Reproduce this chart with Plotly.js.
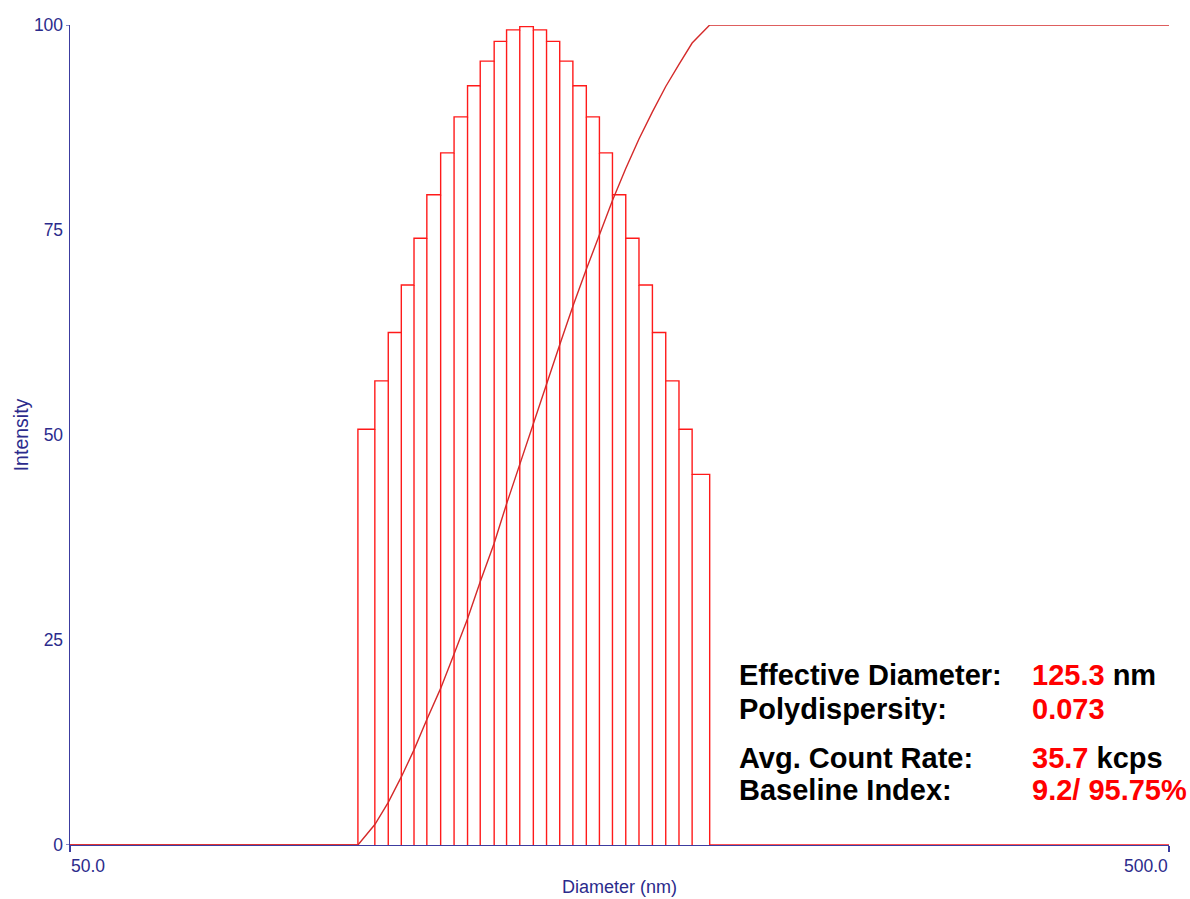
<!DOCTYPE html>
<html>
<head>
<meta charset="utf-8">
<script src="https://cdn.plot.ly/plotly-3.0.1.min.js"></script>
<style>html,body{margin:0;padding:0;background:#fff;}#chart{width:1190px;height:899px;}</style>
</head>
<body>
<div id="chart"></div>
<script>
// ---- data ----
const axisTicksX = [50, 500];
const axisTickLabelsX = ["50.0", "500.0"];
const tickValsY = [0, 25, 50, 75, 100];
const xTitle = "Diameter (nm)";
const yTitle = "Intensity";
// bin edges (diameter, nm) of the intensity distribution
const binEdges = [91.4, 94.7, 97.4, 100.1, 102.8, 105.6, 108.7, 111.8, 115.0, 118.1,
  121.6, 124.8, 128.3, 132.0, 135.7, 139.5, 143.4, 147.5, 151.6, 155.8,
  160.2, 164.7, 169.4, 174.2, 179.1, 184.1, 191.0];
// intensity of each bin
const binIntensity = [50.7, 56.6, 62.5, 68.3, 74.0, 79.3, 84.4, 88.8, 92.6, 95.6,
  98.0, 99.4, 99.8, 99.4, 98.0, 95.6, 92.6, 88.8, 84.4, 79.3,
  74.0, 68.3, 62.5, 56.6, 50.7, 45.2];
// cumulative intensity at each bin edge
const cumulative = [0, 2.5, 5.2, 8.3, 11.6, 15.3, 19.1, 23.3, 27.6, 32.1,
  36.8, 41.6, 46.5, 51.3, 56.2, 61.0, 65.7, 70.2, 74.5, 78.6,
  82.5, 86.1, 89.4, 92.5, 95.2, 97.8, 100];
const statLabels = ["Effective Diameter:", "Polydispersity:", "Avg. Count Rate:", "Baseline Index:"];
const statValues = ["125.3", "0.073", "35.7", "9.2/ 95.75%"];
const statUnits = ["nm", "", "kcps", ""];

// ---- build traces ----
const xMin = axisTicksX[0], xMax = axisTicksX[1];
const hx = [xMin, binEdges[0]], hy = [0, 0];
for (let i = 0; i < binIntensity.length; i++) {
  hx.push(binEdges[i], binEdges[i + 1]);
  hy.push(binIntensity[i], binIntensity[i]);
}
hx.push(binEdges[binEdges.length - 1], xMax);
hy.push(0, 0);
for (let i = 1; i < binEdges.length - 1; i++) {
  hx.push(null, binEdges[i], binEdges[i]);
  hy.push(null, 0, Math.min(binIntensity[i - 1], binIntensity[i]));
}
const histTrace = {
  type: 'scatter', mode: 'lines', x: hx, y: hy, connectgaps: false,
  line: {color: '#ff1a1a', width: 1.4}, hoverinfo: 'skip', showlegend: false
};
const cumTrace = {
  type: 'scatter', mode: 'lines',
  x: [xMin].concat(binEdges, [xMax]),
  y: [0].concat(cumulative, [100]),
  line: {color: '#d42a2a', width: 1.4}, hoverinfo: 'skip', showlegend: false
};

// ---- layout ----
const L = 70, R = 21, T = 25, B = 54, W = 1190, H = 899;
const pw = W - L - R, ph = H - T - B;
const px2x = p => (p - L) / pw;
const py2y = p => (H - B - p) / ph;
const FONT = 'Liberation Sans, Arial, sans-serif';
const AXC = '#2b2b8c';

const annotations = [];
const rowY = [675, 708.5, 757.5, 789.5];
statLabels.forEach((t, i) => {
  annotations.push({
    xref: 'paper', yref: 'paper', x: px2x(737), y: py2y(rowY[i]),
    xanchor: 'left', yanchor: 'middle', showarrow: false,
    text: '<b>' + t + '</b>',
    font: {family: FONT, size: 29, color: '#000'}
  });
  annotations.push({
    xref: 'paper', yref: 'paper', x: px2x(1030), y: py2y(rowY[i]),
    xanchor: 'left', yanchor: 'middle', showarrow: false,
    text: '<b>' + statValues[i] + (statUnits[i] ? ' <span style="color:#000">' + statUnits[i] + '</span>' : '') + '</b>',
    font: {family: FONT, size: 29, color: '#ff0000'}
  });
});
axisTicksX.forEach((v, i) => {
  annotations.push({
    xref: 'x', yref: 'paper', x: Math.log10(v), y: py2y(855),
    xanchor: i === 0 ? 'left' : 'right', yanchor: 'top', showarrow: false,
    text: axisTickLabelsX[i], borderpad: 0,
    font: {family: FONT, size: 17.5, color: AXC}
  });
});
// x axis title near the bottom edge
annotations.push({
  xref: 'paper', yref: 'paper', x: 0.5, y: py2y(876),
  xanchor: 'center', yanchor: 'top', showarrow: false, borderpad: 0,
  text: xTitle, font: {family: FONT, size: 18, color: AXC}
});

const shapes = [0, 100].map(v => ({
  type: 'line', xref: 'paper', yref: 'y', x0: -4 / pw, x1: 0, y0: v, y1: v,
  line: {color: '#3c3ca0', width: 1.2}
}));

const layout = {
  width: W, height: H,
  margin: {l: L, r: R, t: T, b: B, pad: 0},
  paper_bgcolor: '#ffffff', plot_bgcolor: '#ffffff',
  showlegend: false,
  xaxis: {
    type: 'log', range: [Math.log10(xMin), Math.log10(xMax)],
    tickvals: axisTicksX, ticks: 'outside', ticklen: 6, tickcolor: '#3c3ca0', tickwidth: 1.2,
    showticklabels: false, showgrid: false, zeroline: false,
    showline: true, linecolor: '#3c3ca0', linewidth: 1.4,
    automargin: false
  },
  yaxis: {
    range: [0, 100], tickvals: tickValsY, ticktext: tickValsY.map(String),
    ticks: '', showgrid: false, zeroline: false,
    showline: true, linecolor: '#3c3ca0', linewidth: 1.4,
    ticklabelstandoff: 2,
    tickfont: {family: FONT, size: 17.5, color: AXC},
    title: {text: yTitle, standoff: 0, font: {family: FONT, size: 19.5, color: AXC}},
    automargin: false
  },
  annotations: annotations,
  shapes: shapes
};

Plotly.newPlot('chart', [histTrace, cumTrace], layout, {staticPlot: true, displayModeBar: false});
</script>
</body>
</html>
